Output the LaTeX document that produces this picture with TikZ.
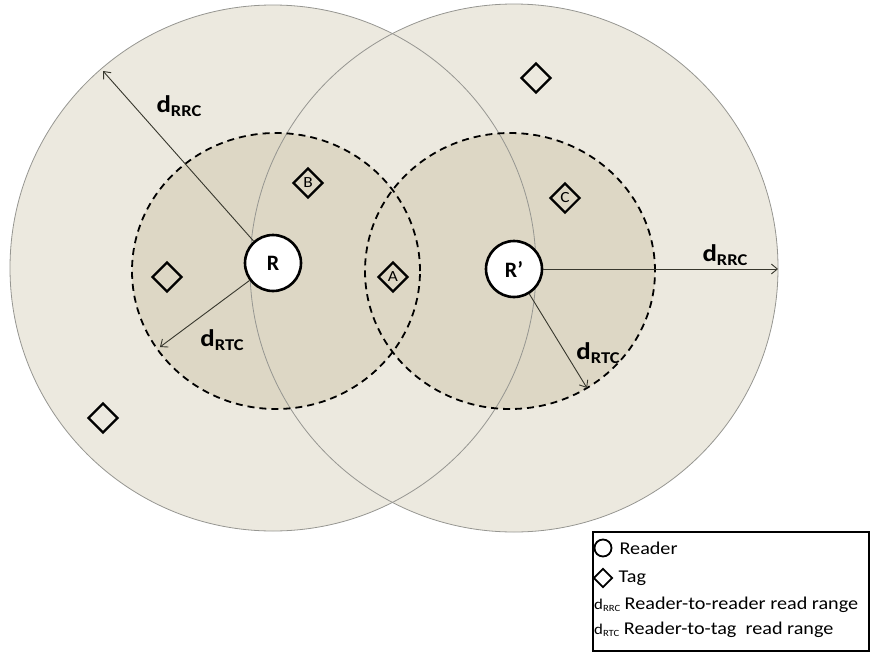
\documentclass[tikz,border=0pt]{standalone}
\usepackage{fontspec}
\setmainfont{Carlito}
\newfontfamily\widefont[FakeStretch=1.12]{Carlito}
\usetikzlibrary{shapes.geometric,positioning,arrows.meta}

\definecolor{outerfill}{RGB}{236,233,223}
\definecolor{innerfill}{RGB}{221,215,197}
\definecolor{rimgray}{RGB}{150,150,145}
\definecolor{arrowgray}{RGB}{55,55,45}

% range labels: big one in the drawing, small one in the key
\newcommand{\dist}[1]{{\fontsize{24}{24}\selectfont\bfseries d}\raisebox{-4pt}{\fontsize{16.5}{16}\selectfont\bfseries #1}}
\newcommand{\keydist}[1]{{\fontsize{15}{16}\selectfont d}\raisebox{-2pt}{\fontsize{9.5}{9}\selectfont #1}}

\begin{document}
\begin{tikzpicture}[x=1pt, y=-1pt,
  reader/.style={circle, draw, fill=white, line width=2.6pt, minimum size=56pt, inner sep=0pt,
    font=\fontsize{22}{22}\selectfont\bfseries},
  tag/.style={diamond, draw, line width=2.2pt, minimum size=30pt, inner sep=0pt,
    font=\widefont\fontsize{15.5}{15}\selectfont},
  rangearrow/.style={draw=arrowgray, line width=0.9pt, -{Straight Barb[length=6pt,width=10pt]}},
  lbl/.style={inner sep=0pt, font=\widefont},
  keytext/.style={inner sep=0pt, font=\widefont\fontsize{18}{18}\selectfont}]
\useasboundingbox (0,0) rectangle (872,653);

% reader-to-reader and reader-to-tag areas
\fill [outerfill] (273,268) circle (263pt);
\fill [outerfill] (514,268) circle (264pt);
\fill [innerfill] (276,271) ellipse [x radius=144pt, y radius=138pt];
\fill [innerfill] (510,271) ellipse [x radius=145pt, y radius=138pt];
\draw [rimgray, line width=0.8pt] (273,268) circle (263pt);
\draw [rimgray, line width=0.8pt] (514,268) circle (264pt);
\draw [line width=1.8pt, dash pattern=on 7pt off 5pt] (276,271) ellipse [x radius=144pt, y radius=138pt];
\draw [line width=1.8pt, dash pattern=on 7pt off 5pt] (510,271) ellipse [x radius=145pt, y radius=138pt];

% tags
\node [tag] (t1) at (536,78) {};
\node [tag] (t2) at (167,277) {};
\node [tag] (t3) at (103,418) {};
\node [tag] (tB) at (308,183) {B};
\node [tag] (tA) at (393,277) {A};
\node [tag] (tC) at (565,198) {C};

% readers
\node [reader] (r1) at (273,263) {R};
\node [reader] (r2) at (514,269) {R’};

\coordinate (r1rrc) at (103,71);
\coordinate (r1rtc) at (160,347);
\coordinate (r2rrc) at (778,269);
\coordinate (r2rtc) at (587,388);
\draw [rangearrow] (r1) -- (r1rrc);
\draw [rangearrow] (r1) -- (r1rtc);
\draw [rangearrow] (r2) -- (r2rrc);
\draw [rangearrow] (r2) -- (r2rtc);
\node [lbl] (l1rrc) at (179,106) {\dist{RRC}};
\node [lbl] (l1rtc) at (222,340) {\dist{RTC}};
\node [lbl] (l2rrc) at (725,255) {\dist{RRC}};
\node [lbl] (l2rtc) at (598,353) {\dist{RTC}};

% key
\node [draw, line width=1.8pt, minimum width=276pt, minimum height=119pt, inner sep=0pt] (key) at (731,591.5) {};
\node [reader, minimum size=17pt, line width=1.8pt] (kr) at (603,548) {};
\node [keytext, right=7pt of kr] (krt) {Reader};
\node [tag, minimum size=19pt, line width=1.8pt] (kt) at (603,578) {};
\node [keytext, right=5pt of kt] (ktt) {Tag};
\node [keytext, anchor=west] (kd1) at (594,605) {\keydist{RRC} Reader-to-reader read range};
\node [keytext, anchor=west] (kd2) at (594,630) {\keydist{RTC} Reader-to-tag\ \ read range};
\end{tikzpicture}
\end{document}
